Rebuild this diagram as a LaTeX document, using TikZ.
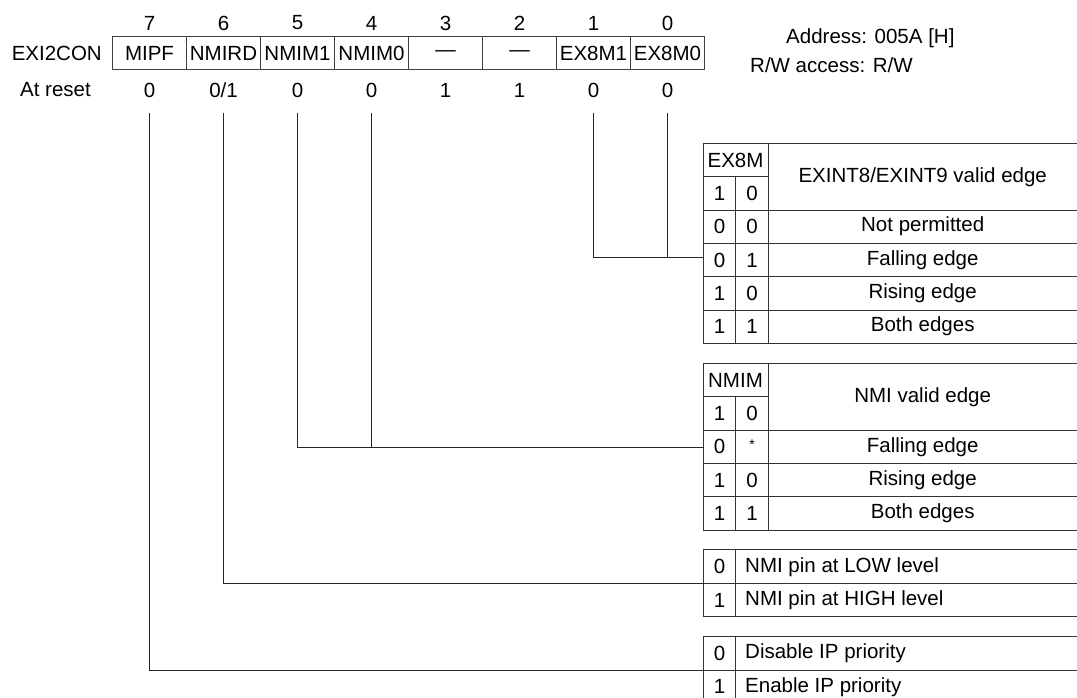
\documentclass[tikz,border=0pt]{standalone}
\usepackage{fontspec}
\setmainfont{Liberation Sans}
\begin{document}
\begin{tikzpicture}[x=1pt,y=-1pt,
  every node/.style={font=\fontsize{20.5}{24}\selectfont, inner sep=0pt, text=black},
  regcell/.style={draw=black!75, line width=1pt, minimum width=74pt, minimum height=33pt},
  grid/.style={draw=black!80, line width=1.1pt},
  wire/.style={draw=black!85, line width=1.1pt}]
\useasboundingbox (0,0) rectangle (1077,698);
\fill[white] (0,0) rectangle (1077,698);
% register name and labels
\node[anchor=east] (regname) at (102,53.5) {EXI2CON};
\node[anchor=east] (atreset) at (91,90) {At reset};
\node[anchor=west] (addr) at (786,38.5) {Address: 005A [H]};
\node[anchor=west] (rw) at (750,65) {R/W access: R/W};
% register cells
\foreach \i/\name/\txt/\rst in {7/MIPF/MIPF/0, 6/NMIRD/NMIRD/0\slash 1, 5/NMIMa/NMIM1/0, 4/NMIMb/NMIM0/0, 3/resA/\textemdash/1, 2/resB/\textemdash/1, 1/EXa/EX8M1/0, 0/EXb/EX8M0/0}{
  \pgfmathsetmacro\cx{149.5+74*(7-\i)}
  \node[regcell] (r\i) at (\cx,53.5) {\txt};
  \node (n\i) at (\cx,23) {\i};
  \node (v\i) at (\cx,90) {\rst};
  \coordinate (s\i) at (\cx,113);
}
% ---------- table 1: EX8M ----------
\draw[grid] (1077,143.5) -- (703.5,143.5) -- (703.5,343.5) -- (1077,343.5);
\draw[grid] (703.5,176.5) -- (768.5,176.5);
\foreach \yy in {210.5,243.5,276.5,310.5} \draw[grid] (703.5,\yy) -- (1077,\yy);
\draw[grid] (735.5,176.5) -- (735.5,343.5);
\draw[grid] (768.5,143.5) -- (768.5,343.5);
\node (ta_h) at (735.5,160) {EX8M};
\node (ta_h1) at (719.5,193.3) {1};
\node (ta_h0) at (752,193.3) {0};
\node (ta_d) at (922.7,176.7) {EXINT8/EXINT9 valid edge};
\foreach \k/\a/\b/\t in {0/0/0/Not permitted, 1/0/1/Falling edge, 2/1/0/Rising edge, 3/1/1/Both edges}{
  \pgfmathsetmacro\ry{226.7+33.33*\k}
  \node (ta_a\k) at (719.5,\ry) {\a};
  \node (ta_b\k) at (752,\ry) {\b};
  \node (ta_t\k) at (922.7,\ry) {\t};
}
\coordinate (ta_in) at (703.5,257.5);
% ---------- table 2: NMIM ----------
\draw[grid] (1077,363.5) -- (703.5,363.5) -- (703.5,530.5) -- (1077,530.5);
\draw[grid] (703.5,396.5) -- (768.5,396.5);
\foreach \yy in {430.5,463.5,496.5} \draw[grid] (703.5,\yy) -- (1077,\yy);
\draw[grid] (735.5,396.5) -- (735.5,530.5);
\draw[grid] (768.5,363.5) -- (768.5,530.5);
\node (tb_h) at (735.5,380) {NMIM};
\node (tb_h1) at (719.5,413.3) {1};
\node (tb_h0) at (752,413.3) {0};
\node (tb_d) at (922.7,396.7) {NMI valid edge};
\foreach \k/\a/\b/\t in {0/0/{\raisebox{4pt}{\fontsize{14}{14}\selectfont *}}/Falling edge, 1/1/0/Rising edge, 2/1/1/Both edges}{
  \pgfmathsetmacro\ry{446.7+33.33*\k}
  \node (tb_a\k) at (719.5,\ry) {\a};
  \node (tb_b\k) at (752,\ry) {\b};
  \node (tb_t\k) at (922.7,\ry) {\t};
}
\coordinate (tb_in) at (703.5,447.5);
% ---------- table 3: NMIRD ----------
\draw[grid] (1077,549.5) -- (703.5,549.5) -- (703.5,616.5) -- (1077,616.5);
\draw[grid] (703.5,583.5) -- (1077,583.5);
\draw[grid] (735.5,549.5) -- (735.5,616.5);
\node (tc_a0) at (719.5,566.7) {0};
\node[anchor=west] (tc_t0) at (745,566.7) {NMI pin at LOW level};
\node (tc_a1) at (719.5,600) {1};
\node[anchor=west] (tc_t1) at (745,600) {NMI pin at HIGH level};
\coordinate (tc_in) at (703.5,583.5);
% ---------- table 4: MIPF ----------
\draw[grid] (1077,636.5) -- (703.5,636.5) -- (703.5,710);
\draw[grid] (703.5,670.5) -- (1077,670.5);
\draw[grid] (735.5,636.5) -- (735.5,710);
\node (td_a0) at (719.5,653.3) {0};
\node[anchor=west] (td_t0) at (745,653.3) {Disable IP priority};
\node (td_a1) at (719.5,686.7) {1};
\node[anchor=west] (td_t1) at (745,686.7) {Enable IP priority};
\coordinate (td_in) at (703.5,670.5);
% ---------- connectors ----------
\draw[wire] (s1) |- (ta_in);
\draw[wire] (s0) -- (s0 |- ta_in);
\draw[wire] (s5) |- (tb_in);
\draw[wire] (s4) -- (s4 |- tb_in);
\draw[wire] (s6) |- (tc_in);
\draw[wire] (s7) |- (td_in);
\end{tikzpicture}
\end{document}
